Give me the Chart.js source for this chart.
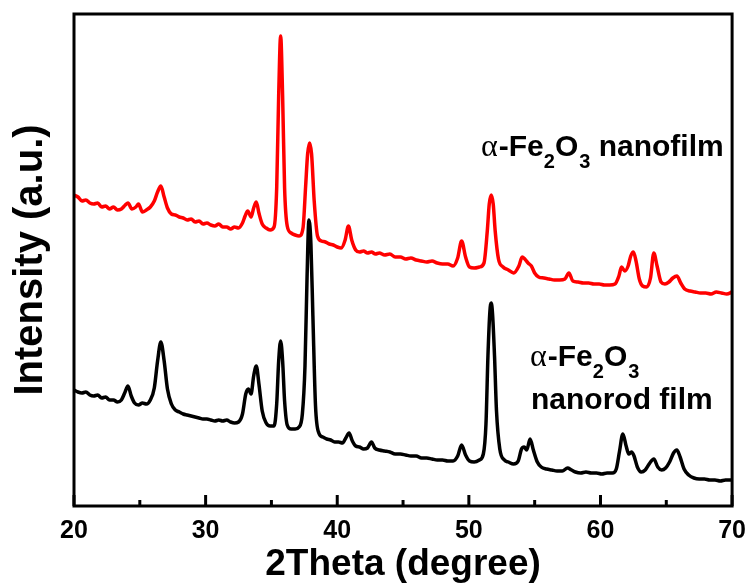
<!DOCTYPE html>
<html>
<head>
<meta charset="utf-8">
<script src="https://cdn.jsdelivr.net/npm/chart.js@4"></script>
<style>
html, body { margin: 0; padding: 0; background: #fff; }
</style>
</head>
<body>
<canvas id="xrd" width="756" height="583"></canvas>
<script>
// alpha-Fe2O3 nanofilm (red)
const filmTheta = [
  20.0, 20.3, 20.6, 20.9, 21.2, 21.5, 21.8, 22.1, 22.4, 22.7,
  23.0, 23.3, 23.6, 23.9, 24.1, 24.4, 24.7, 24.9, 25.2, 25.5,
  25.8, 26.1, 26.35, 26.6, 26.85, 27.1, 27.4, 27.7, 28.0, 28.3,
  28.6, 28.9, 29.2, 29.5, 29.8, 30.1, 30.4, 30.7, 31.0, 31.3,
  31.6, 31.9, 32.2, 32.5, 32.8, 33.0, 33.2, 33.45, 33.65, 33.85,
  34.05, 34.3, 34.6, 34.9, 35.2, 35.4, 35.55, 35.7, 35.85, 36.0,
  36.2, 36.5, 36.8, 37.1, 37.4, 37.6, 37.75, 37.9, 38.05, 38.25,
  38.5, 38.8, 39.1, 39.4, 39.7, 40.0, 40.3, 40.6, 40.85, 41.1,
  41.4, 41.7, 42.0, 42.3, 42.6, 42.9, 43.2, 43.6, 44.0, 44.4,
  44.8, 45.2, 45.6, 46.0, 46.4, 46.8, 47.2, 47.6, 48.0, 48.4,
  48.8, 49.15, 49.45, 49.75, 50.05, 50.4, 50.8, 51.15, 51.4, 51.55,
  51.7, 51.85, 52.0, 52.25, 52.6, 53.0, 53.4, 53.8, 54.05, 54.25,
  54.5, 54.75, 55.0, 55.3, 55.7, 56.1, 56.5, 56.9, 57.3, 57.6,
  57.9, 58.3, 58.7, 59.1, 59.5, 59.9, 60.3, 60.7, 61.1, 61.4,
  61.6, 61.85, 62.1, 62.3, 62.5, 62.7, 62.95, 63.2, 63.5, 63.8,
  64.05, 64.3, 64.6, 64.9, 65.2, 65.5, 65.8, 66.1, 66.4, 66.8,
  67.2, 67.6, 68.0, 68.4, 68.8, 69.2, 69.6, 70.0
];
const filmIntensity = [
  311, 309, 305, 306, 303, 302, 303, 299, 300, 297,
  299, 296, 297, 301, 303, 297, 299, 302, 294, 296,
  299, 305, 314, 320, 309, 298, 292, 291, 289, 288,
  286, 287, 284, 285, 282, 283, 281, 280, 282, 279,
  279, 277, 279, 278, 283, 290, 295, 289, 298, 304,
  293, 282, 278, 276, 279, 318, 410, 470, 410, 318,
  280, 273, 271, 270, 278, 320, 352, 363, 352, 305,
  270, 265, 264, 262, 261, 259, 258, 266, 280, 266,
  256, 254, 255, 253, 254, 252, 253, 251, 252, 249,
  249, 247, 248, 246, 245, 244, 245, 243, 242, 242,
  240, 248, 265, 249, 239, 238, 239, 243, 275, 302,
  311, 302, 275, 247, 239, 236, 233, 240, 249, 247,
  243, 240, 233, 229, 228, 227, 226, 226, 227, 233,
  225, 224, 223, 223, 222, 222, 221, 221, 222, 230,
  239, 235, 240, 250, 254, 245, 227, 220, 219, 228,
  253, 240, 224, 222, 224, 228, 230, 223, 217, 215,
  214, 213, 213, 212, 214, 213, 212, 214
];

// alpha-Fe2O3 nanorod film (black)
const rodTheta = [
  20.0, 20.3, 20.6, 20.9, 21.2, 21.5, 21.8, 22.1, 22.4, 22.7,
  23.0, 23.3, 23.6, 23.85, 24.1, 24.35, 24.6, 24.9, 25.2, 25.5,
  25.8, 26.1, 26.35, 26.6, 26.85, 27.1, 27.4, 27.7, 28.0, 28.3,
  28.6, 28.9, 29.2, 29.5, 29.8, 30.1, 30.4, 30.7, 31.0, 31.3,
  31.6, 31.9, 32.2, 32.5, 32.8, 33.05, 33.25, 33.45, 33.65, 33.85,
  34.05, 34.3, 34.6, 34.9, 35.2, 35.4, 35.55, 35.7, 35.85, 36.0,
  36.2, 36.5, 36.8, 37.1, 37.35, 37.55, 37.7, 37.85, 38.0, 38.15,
  38.35, 38.6, 38.9, 39.2, 39.5, 39.8, 40.1, 40.4, 40.65, 40.9,
  41.15, 41.4, 41.7, 42.0, 42.3, 42.6, 42.85, 43.2, 43.6, 44.0,
  44.4, 44.8, 45.2, 45.6, 46.0, 46.4, 46.8, 47.2, 47.6, 48.0,
  48.4, 48.8, 49.15, 49.45, 49.75, 50.05, 50.4, 50.8, 51.1, 51.3,
  51.45, 51.6, 51.7, 51.8, 51.95, 52.1, 52.35, 52.7, 53.0, 53.4,
  53.75, 54.0, 54.2, 54.4, 54.65, 54.9, 55.2, 55.5, 55.9, 56.3,
  56.7, 57.1, 57.5, 57.8, 58.1, 58.5, 58.9, 59.3, 59.7, 60.1,
  60.5, 60.9, 61.2, 61.45, 61.7, 61.95, 62.15, 62.35, 62.55, 62.8,
  63.1, 63.4, 63.75, 64.05, 64.35, 64.65, 64.95, 65.25, 65.55, 65.8,
  66.05, 66.35, 66.7, 67.1, 67.5, 67.9, 68.3, 68.7, 69.1, 69.5,
  70.0
];
const rodIntensity = [
  116, 114, 113, 114, 111, 110, 111, 108, 109, 106,
  106, 104, 106, 113, 120, 110, 103, 101, 103, 102,
  106, 118, 145, 164, 145, 117, 102, 96, 94, 92,
  91, 90, 89, 88, 87, 87, 86, 85, 86, 85,
  86, 84, 83, 84, 92, 112, 117, 112, 130, 140,
  122, 95, 83, 80, 80, 102, 145, 165, 145, 105,
  81, 77, 77, 79, 92, 140, 225, 286, 262, 190,
  100, 73, 69, 67, 66, 64, 64, 63, 68, 73,
  65, 60, 59, 57, 58, 64, 58, 56, 55, 54,
  52, 52, 51, 50, 50, 48, 48, 47, 46, 46,
  45, 45, 50, 61, 51, 45, 44, 46, 52, 82,
  150, 195, 203, 192, 150, 95, 57, 46, 44, 42,
  45, 57, 59, 56, 67, 56, 44, 39, 37, 36,
  35, 35, 38, 36, 34, 33, 34, 33, 33, 32,
  33, 33, 37, 55, 72, 60, 52, 54, 50, 39,
  34, 36, 43, 47, 39, 36, 38, 44, 53, 56,
  49, 37, 31, 28, 27, 27, 26, 26, 25, 26,
  26
];

const xTicks = [20, 30, 40, 50, 60, 70];

const SANS = '"Liberation Sans", Arial, sans-serif';

function toPoints(xs, ys) {
  return xs.map((x, i) => ({ x: x, y: ys[i] }));
}

// frame round the plot plus inward tick marks
const frame = {
  id: 'frame',
  afterDatasetsDraw(chart) {
    const { ctx, chartArea: a } = chart;
    const x = chart.scales.x;
    ctx.save();
    ctx.strokeStyle = '#000';
    ctx.lineWidth = 3;
    ctx.strokeRect(a.left, a.top, a.right - a.left, a.bottom - a.top);
    x.ticks.forEach(t => {
      const px = x.getPixelForValue(t.value);
      const len = xTicks.includes(t.value) ? 11 : 6;
      ctx.beginPath();
      ctx.moveTo(px, a.bottom);
      ctx.lineTo(px, a.bottom - len);
      ctx.stroke();
    });
    ctx.restore();
  }
};

// formula with subscripts, drawn piece by piece
function drawFormula(ctx, x, y, parts) {
  parts.forEach(p => {
    ctx.font = p.font;
    ctx.fillText(p.text, x, y + (p.dy || 0));
    x += ctx.measureText(p.text).width + (p.gap || 0);
  });
}

const labels = {
  id: 'labels',
  afterDraw(chart) {
    const ctx = chart.ctx;
    const big = 'bold 30px ' + SANS;
    const sub = 'bold 20px ' + SANS;
    const alpha = '32px "Liberation Serif", "DejaVu Serif", serif';
    ctx.save();
    ctx.fillStyle = '#000';
    ctx.textBaseline = 'alphabetic';
    drawFormula(ctx, 481, 156, [
      { text: 'α', font: alpha, gap: 1 },
      { text: '-Fe', font: big },
      { text: '2', font: sub, dy: 12 },
      { text: 'O', font: big, gap: 1 },
      { text: '3', font: sub, dy: 12 },
      { text: ' nanofilm', font: big }
    ]);
    drawFormula(ctx, 530, 366, [
      { text: 'α', font: alpha, gap: 1 },
      { text: '-Fe', font: big },
      { text: '2', font: sub, dy: 12 },
      { text: 'O', font: big, gap: 1 },
      { text: '3', font: sub, dy: 12 }
    ]);
    ctx.font = big;
    ctx.fillText('nanorod film', 531, 409);
    ctx.restore();
  }
};

new Chart(document.getElementById('xrd'), {
  type: 'line',
  data: {
    datasets: [{
      label: 'α-Fe2O3 nanofilm',
      data: toPoints(filmTheta, filmIntensity),
      borderColor: '#ff0000',
      borderWidth: 3.5,
      pointRadius: 0,
      fill: false,
      cubicInterpolationMode: 'monotone'
    }, {
      label: 'α-Fe2O3 nanorod film',
      data: toPoints(rodTheta, rodIntensity),
      borderColor: '#000000',
      borderWidth: 3.5,
      pointRadius: 0,
      fill: false,
      cubicInterpolationMode: 'monotone'
    }]
  },
  options: {
    responsive: false,
    animation: false,
    layout: { padding: { top: 14, right: 19, left: 0, bottom: 0 } },
    plugins: {
      legend: { display: false },
      tooltip: { enabled: false }
    },
    scales: {
      x: {
        type: 'linear',
        min: 20,
        max: 70,
        grid: { display: false, drawTicks: false },
        border: { display: false },
        ticks: {
          stepSize: 5,
          padding: 10,
          color: '#000',
          font: { family: SANS, size: 25, weight: 'bold' },
          callback: v => xTicks.includes(v) ? v : ''
        },
        title: {
          display: true,
          text: '2Theta (degree)',
          color: '#000',
          font: { family: SANS, size: 37, weight: 'bold', lineHeight: 1 },
          padding: { top: 0, bottom: 0 }
        },
        afterFit: s => { s.height = 77; }
      },
      y: {
        min: 0,
        max: 492,
        grid: { display: false, drawTicks: false },
        border: { display: false },
        ticks: { display: false },
        title: {
          display: true,
          text: 'Intensity (a.u.)',
          color: '#000',
          font: { family: SANS, size: 40, weight: 'bold', lineHeight: 1 },
          padding: { top: 11, bottom: 0 }
        },
        afterFit: s => { s.width = 74; }
      }
    }
  },
  plugins: [frame, labels]
});
</script>
</body>
</html>
